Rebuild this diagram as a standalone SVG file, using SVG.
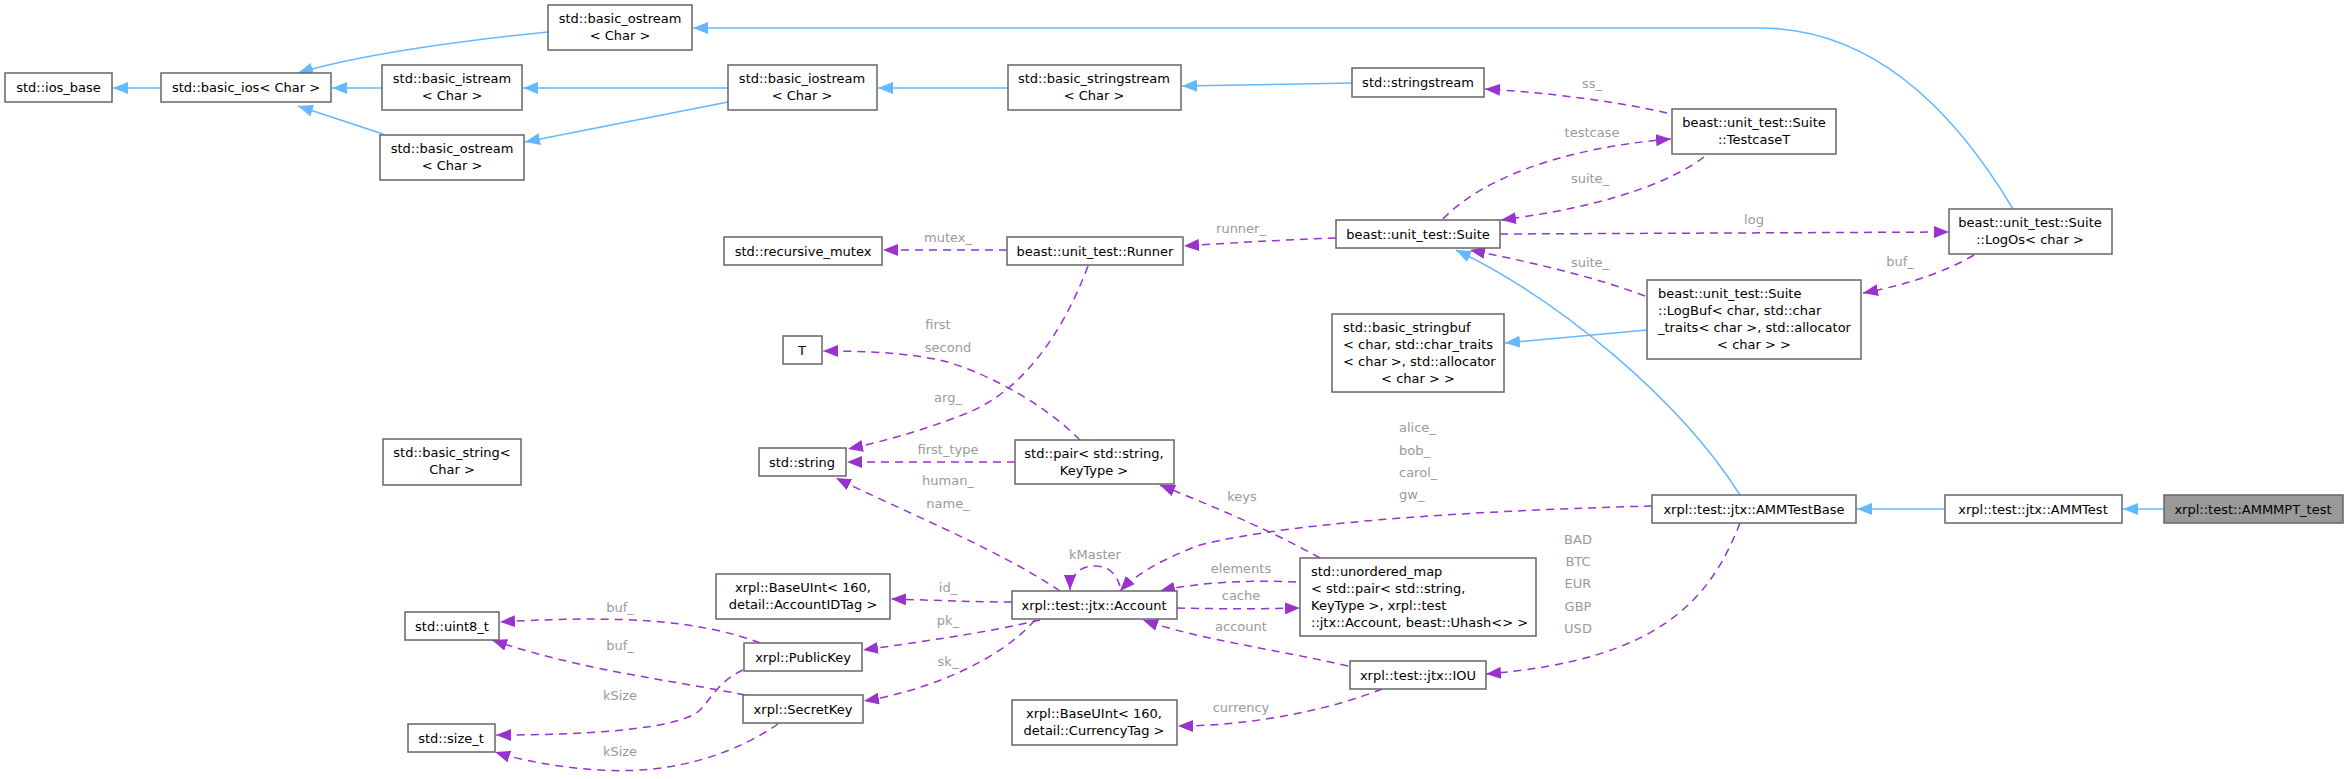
<svg xmlns="http://www.w3.org/2000/svg" width="2351" height="779" viewBox="0 0 2351 779">
<style>
.n rect{fill:#fff;stroke:#666;stroke-width:1.5}
.n text{font-family:"DejaVu Sans",sans-serif;font-size:13px;fill:#000;text-anchor:middle}
.n text.l{text-anchor:start}
.b{fill:none;stroke:#63b8ff;stroke-width:1.5}
.d{fill:none;stroke:#9a32cd;stroke-width:1.5;stroke-dasharray:8,6}
.lb{font-family:"DejaVu Sans",sans-serif;font-size:13px;fill:#9a9a9a;text-anchor:middle}
.lb.l{text-anchor:start}
</style>
<defs>
<marker id="ab" markerUnits="userSpaceOnUse" markerWidth="16" markerHeight="12" refX="15" refY="6" orient="auto"><path d="M0,0 L15,6 L0,12 z" fill="#63b8ff"/></marker>
<marker id="ap" markerUnits="userSpaceOnUse" markerWidth="16" markerHeight="12" refX="15" refY="6" orient="auto"><path d="M0,0 L15,6 L0,12 z" fill="#9a32cd"/></marker>
</defs>
<rect width="2351" height="779" fill="#fff"/>
<g id="edges">
<path class="b" marker-end="url(#ab)" d="M161,88 L113,88"/>
<path class="b" marker-end="url(#ab)" d="M382,88 L332,88"/>
<path class="b" marker-end="url(#ab)" d="M383,134 L298,106"/>
<path class="b" marker-end="url(#ab)" d="M548,32 C470,40 370,52 298,73"/>
<path class="b" marker-end="url(#ab)" d="M728,88 L523,88"/>
<path class="b" marker-end="url(#ab)" d="M728,102 L525,142"/>
<path class="b" marker-end="url(#ab)" d="M1008,88 L878,88"/>
<path class="b" marker-end="url(#ab)" d="M1352,83 L1182,86"/>
<path class="b" marker-end="url(#ab)" d="M2013,209 C1960,120 1880,28 1760,28 L693,28"/>
<path class="d" marker-end="url(#ap)" d="M1667,113 C1610,100 1540,92 1485,89"/>
<text class="lb" x="1592" y="88">ss_</text>
<path class="d" marker-end="url(#ap)" d="M1443,219 C1480,180 1560,148 1671,139"/>
<text class="lb" x="1592" y="137">testcase</text>
<path class="d" marker-end="url(#ap)" d="M1704,157 C1660,190 1580,210 1501,220"/>
<text class="lb" x="1590" y="183">suite_</text>
<path class="d" marker-end="url(#ap)" d="M1500,234 L1949,232"/>
<text class="lb" x="1754" y="224">log</text>
<path class="d" marker-end="url(#ap)" d="M1974,255 C1940,275 1900,286 1863,293"/>
<text class="lb" x="1900" y="266">buf_</text>
<path class="d" marker-end="url(#ap)" d="M1645,296 C1590,275 1520,260 1470,250"/>
<text class="lb" x="1590" y="267">suite_</text>
<path class="b" marker-end="url(#ab)" d="M1647,330 L1505,343"/>
<path class="b" marker-end="url(#ab)" d="M1740,495 C1680,400 1560,300 1456,250"/>
<path class="b" marker-end="url(#ab)" d="M1945,509 L1857,509"/>
<path class="b" marker-end="url(#ab)" d="M2164,509 L2123,509"/>
<path class="d" marker-end="url(#ap)" d="M1336,238 C1280,240 1230,243 1184,246"/>
<text class="lb" x="1241" y="233">runner_</text>
<path class="d" marker-end="url(#ap)" d="M1007,250 L883,250"/>
<text class="lb" x="948" y="242">mutex_</text>
<path class="d" marker-end="url(#ap)" d="M1088,266 C1060,340 1020,390 970,412 C930,428 890,440 848,449"/>
<text class="lb" x="948" y="402">arg_</text>
<path class="d" marker-end="url(#ap)" d="M1080,440 C1040,400 980,370 940,360 C900,352 860,351 823,351"/>
<text class="lb" x="938" y="329">first</text>
<text class="lb" x="948" y="352">second</text>
<path class="d" marker-end="url(#ap)" d="M1015,462 L847,462"/>
<text class="lb" x="948" y="454">first_type</text>
<path class="d" marker-end="url(#ap)" d="M1060,591 C1000,550 900,510 836,478"/>
<text class="lb" x="948" y="485">human_</text>
<text class="lb" x="948" y="508">name_</text>
<path class="d" marker-end="url(#ap)" d="M1120,586 C1115,570 1105,566 1095,566 C1080,566 1070,575 1070,590"/>
<text class="lb" x="1095" y="559">kMaster</text>
<path class="d" marker-end="url(#ap)" d="M1652,506 C1500,510 1300,520 1200,545 C1160,560 1135,575 1120,591"/>
<text class="lb l" x="1399" y="432">alice_</text>
<text class="lb l" x="1399" y="455">bob_</text>
<text class="lb l" x="1399" y="477">carol_</text>
<text class="lb l" x="1399" y="499">gw_</text>
<path class="d" marker-end="url(#ap)" d="M1320,558 C1270,530 1210,505 1160,485"/>
<text class="lb" x="1242" y="501">keys</text>
<path class="d" marker-end="url(#ap)" d="M1296,582 C1250,580 1200,582 1160,591"/>
<text class="lb" x="1241" y="573">elements</text>
<path class="d" marker-end="url(#ap)" d="M1177,608 C1220,609 1260,609 1300,608"/>
<text class="lb" x="1241" y="600">cache</text>
<path class="d" marker-end="url(#ap)" d="M1348,666 C1280,650 1200,640 1143,620"/>
<text class="lb" x="1241" y="631">account</text>
<path class="d" marker-end="url(#ap)" d="M1740,523 C1710,600 1660,660 1486,674"/>
<text class="lb" x="1578" y="544">BAD</text>
<text class="lb" x="1578" y="566">BTC</text>
<text class="lb" x="1578" y="588">EUR</text>
<text class="lb" x="1578" y="611">GBP</text>
<text class="lb" x="1578" y="633">USD</text>
<path class="d" marker-end="url(#ap)" d="M1382,689 C1330,710 1250,726 1178,726"/>
<text class="lb" x="1241" y="712">currency</text>
<path class="d" marker-end="url(#ap)" d="M1012,602 C970,602 930,600 891,599"/>
<text class="lb" x="948" y="592">id_</text>
<path class="d" marker-end="url(#ap)" d="M1040,620 C990,632 920,642 863,650"/>
<text class="lb" x="948" y="625">pk_</text>
<path class="d" marker-end="url(#ap)" d="M1035,620 C1000,660 930,690 864,701"/>
<text class="lb" x="948" y="666">sk_</text>
<path class="d" marker-end="url(#ap)" d="M760,643 C700,620 620,615 500,622"/>
<text class="lb" x="620" y="612">buf_</text>
<path class="d" marker-end="url(#ap)" d="M745,695 C670,680 580,670 492,640"/>
<text class="lb" x="620" y="650">buf_</text>
<path class="d" marker-end="url(#ap)" d="M743,670 C720,680 710,700 700,710 C680,730 580,735 496,735"/>
<text class="lb" x="620" y="700">kSize</text>
<path class="d" marker-end="url(#ap)" d="M778,724 C740,750 680,775 600,770 C560,768 520,760 495,752"/>
<text class="lb" x="620" y="756">kSize</text>
</g>
<g id="n_ios_base" class="n"><rect x="5" y="73" width="107" height="29"/><text x="58.5" y="92">std::ios_base</text></g>
<g id="n_basic_ios" class="n"><rect x="161" y="73" width="170" height="29"/><text x="246" y="92">std::basic_ios&lt; Char &gt;</text></g>
<g id="n_ostream_top" class="n"><rect x="548" y="5" width="144" height="45"/><text x="620" y="23">std::basic_ostream</text><text x="620" y="40">&lt; Char &gt;</text></g>
<g id="n_istream" class="n"><rect x="382" y="65" width="140" height="45"/><text x="452" y="83">std::basic_istream</text><text x="452" y="100">&lt; Char &gt;</text></g>
<g id="n_ostream2" class="n"><rect x="380" y="135" width="144" height="45"/><text x="452" y="153">std::basic_ostream</text><text x="452" y="170">&lt; Char &gt;</text></g>
<g id="n_iostream" class="n"><rect x="728" y="65" width="149" height="45"/><text x="802" y="83">std::basic_iostream</text><text x="802" y="100">&lt; Char &gt;</text></g>
<g id="n_basic_stringstream" class="n"><rect x="1008" y="65" width="173" height="45"/><text x="1094" y="83">std::basic_stringstream</text><text x="1094" y="100">&lt; Char &gt;</text></g>
<g id="n_stringstream" class="n"><rect x="1352" y="68" width="132" height="29"/><text x="1418" y="87">std::stringstream</text></g>
<g id="n_recursive_mutex" class="n"><rect x="724" y="237" width="158" height="28"/><text x="803" y="256">std::recursive_mutex</text></g>
<g id="n_runner" class="n"><rect x="1007" y="237" width="176" height="28"/><text x="1095" y="256">beast::unit_test::Runner</text></g>
<g id="n_suite" class="n"><rect x="1336" y="220" width="164" height="28"/><text x="1418" y="239">beast::unit_test::Suite</text></g>
<g id="n_testcase" class="n"><rect x="1672" y="109" width="164" height="45"/><text x="1754" y="127">beast::unit_test::Suite</text><text x="1754" y="144">::TestcaseT</text></g>
<g id="n_logos" class="n"><rect x="1949" y="209" width="163" height="45"/><text x="2030" y="227">beast::unit_test::Suite</text><text x="2030" y="244">::LogOs&lt; char &gt;</text></g>
<g id="n_logbuf" class="n"><rect x="1647" y="280" width="214" height="79"/><text class="l" x="1658" y="298">beast::unit_test::Suite</text><text class="l" x="1658" y="315">::LogBuf&lt; char, std::char</text><text class="l" x="1658" y="332">_traits&lt; char &gt;, std::allocator</text><text x="1754" y="349">&lt; char &gt; &gt;</text></g>
<g id="n_stringbuf" class="n"><rect x="1332" y="314" width="172" height="78"/><text class="l" x="1343" y="332">std::basic_stringbuf</text><text class="l" x="1343" y="349">&lt; char, std::char_traits</text><text class="l" x="1343" y="366">&lt; char &gt;, std::allocator</text><text x="1418" y="383">&lt; char &gt; &gt;</text></g>
<g id="n_ammtestbase" class="n"><rect x="1652" y="495" width="204" height="28"/><text x="1754" y="514">xrpl::test::jtx::AMMTestBase</text></g>
<g id="n_ammtest" class="n"><rect x="1945" y="495" width="177" height="28"/><text x="2033" y="514">xrpl::test::jtx::AMMTest</text></g>
<g id="n_ammmpt" class="n"><rect x="2164" y="495" width="179" height="28" style="fill:#999"/><text x="2253" y="514">xrpl::test::AMMMPT_test</text></g>
<g id="n_T" class="n"><rect x="783" y="336" width="39" height="28"/><text x="802" y="355">T</text></g>
<g id="n_string" class="n"><rect x="759" y="448" width="87" height="28"/><text x="802" y="467">std::string</text></g>
<g id="n_basic_string" class="n"><rect x="383" y="439" width="138" height="46"/><text x="452" y="457">std::basic_string&lt;</text><text x="452" y="474">Char &gt;</text></g>
<g id="n_pair" class="n"><rect x="1015" y="440" width="159" height="44"/><text x="1094" y="458">std::pair&lt; std::string,</text><text x="1094" y="475">KeyType &gt;</text></g>
<g id="n_baseuint_acc" class="n"><rect x="716" y="574" width="174" height="45"/><text x="803" y="592">xrpl::BaseUInt&lt; 160,</text><text x="803" y="609">detail::AccountIDTag &gt;</text></g>
<g id="n_account" class="n"><rect x="1012" y="591" width="165" height="28"/><text x="1094" y="610">xrpl::test::jtx::Account</text></g>
<g id="n_publickey" class="n"><rect x="744" y="643" width="118" height="28"/><text x="803" y="662">xrpl::PublicKey</text></g>
<g id="n_secretkey" class="n"><rect x="743" y="695" width="120" height="28"/><text x="803" y="714">xrpl::SecretKey</text></g>
<g id="n_uint8" class="n"><rect x="405" y="612" width="94" height="28"/><text x="452" y="631">std::uint8_t</text></g>
<g id="n_size_t" class="n"><rect x="408" y="724" width="87" height="28"/><text x="451" y="743">std::size_t</text></g>
<g id="n_umap" class="n"><rect x="1300" y="558" width="236" height="78"/><text class="l" x="1311" y="576">std::unordered_map</text><text class="l" x="1311" y="593">&lt; std::pair&lt; std::string,</text><text class="l" x="1311" y="610"> KeyType &gt;, xrpl::test</text><text class="l" x="1311" y="627">::jtx::Account, beast::Uhash&lt;&gt; &gt;</text></g>
<g id="n_iou" class="n"><rect x="1350" y="661" width="136" height="28"/><text x="1418" y="680">xrpl::test::jtx::IOU</text></g>
<g id="n_baseuint_cur" class="n"><rect x="1012" y="700" width="165" height="45"/><text x="1094" y="718">xrpl::BaseUInt&lt; 160,</text><text x="1094" y="735">detail::CurrencyTag &gt;</text></g>
</svg>
